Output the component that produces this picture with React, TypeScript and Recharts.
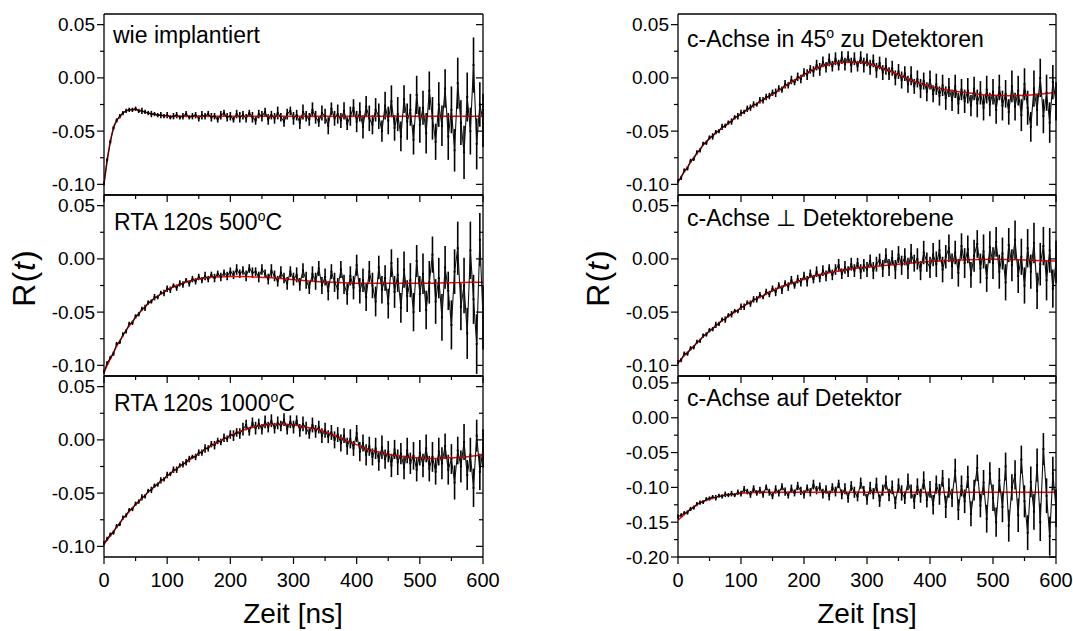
import React from 'react';
import { ComposedChart, Scatter, Line, XAxis, YAxis, ErrorBar } from 'recharts';

const FONT = '"Liberation Sans", Arial, Helvetica, sans-serif';

// measurement times (ns)
const times = [
  0, 5, 10, 15, 20, 25, 30, 35, 40, 45, 50, 55, 60, 65, 70, 75, 80, 85, 90, 95,
  100, 105, 110, 115, 120, 125, 130, 135, 140, 145, 150, 155, 160, 165, 170, 175, 180, 185, 190, 195,
  200, 205, 210, 215, 220, 225, 230, 235, 240, 245, 250, 255, 260, 265, 270, 275, 280, 285, 290, 295,
  300, 305, 310, 315, 320, 325, 330, 335, 340, 345, 350, 355, 360, 365, 370, 375, 380, 385, 390, 395,
  400, 405, 410, 415, 420, 425, 430, 435, 440, 445, 450, 455, 460, 465, 470, 475, 480, 485, 490, 495,
  500, 505, 510, 515, 520, 525, 530, 535, 540, 545, 550, 555, 560, 565, 570, 575, 580, 585, 590, 595,
  600,
];

// times of the fit curve samples
const fitTimes = [
  0, 5, 10, 15, 20, 25, 30, 35, 40, 50, 60, 70, 80, 90, 100,
  120, 140, 160, 180, 200, 220, 240, 260, 280, 300, 320, 340, 360, 380, 400,
  420, 440, 460, 480, 500, 520, 540, 560, 580, 600,
];

const xTicks = [0, 50, 100, 150, 200, 250, 300, 350, 400, 450, 500, 550, 600];
const yTicksStd = [-0.1, -0.075, -0.05, -0.025, 0, 0.025, 0.05];
const yTicksWide = [-0.2, -0.175, -0.15, -0.125, -0.1, -0.075, -0.05, -0.025, 0, 0.025, 0.05];

// wie implantiert
const wieY = [
  -0.099, -0.077, -0.060, -0.047, -0.040, -0.036, -0.033, -0.031, -0.030, -0.030,
  -0.029, -0.031, -0.031, -0.032, -0.033, -0.034, -0.034, -0.035, -0.035, -0.036,
  -0.035, -0.037, -0.036, -0.035, -0.037, -0.036, -0.034, -0.037, -0.036, -0.035,
  -0.038, -0.035, -0.036, -0.034, -0.037, -0.036, -0.039, -0.035, -0.033, -0.037,
  -0.036, -0.039, -0.034, -0.037, -0.035, -0.038, -0.033, -0.037, -0.040, -0.034,
  -0.036, -0.032, -0.039, -0.035, -0.038, -0.033, -0.037, -0.041, -0.034, -0.031,
  -0.038, -0.035, -0.042, -0.032, -0.036, -0.039, -0.030, -0.037, -0.041, -0.033,
  -0.036, -0.045, -0.029, -0.038, -0.034, -0.040, -0.031, -0.043, -0.036, -0.028,
  -0.041, -0.032, -0.046, -0.027, -0.038, -0.044, -0.030, -0.036, -0.050, -0.026,
  -0.040, -0.022, -0.047, -0.034, -0.055, -0.020, -0.041, -0.030, -0.058, -0.016,
  -0.044, -0.028, -0.052, -0.012, -0.038, -0.060, -0.025, -0.045, -0.010, -0.055,
  -0.030, -0.068, -0.005, -0.042, -0.070, -0.018, -0.050, 0.012, -0.062, -0.025,
  -0.040,
];
const wieErr = [
  0.002, 0.002, 0.002, 0.002, 0.002, 0.002, 0.002, 0.002, 0.002, 0.002,
  0.002, 0.002, 0.003, 0.002, 0.002, 0.003, 0.002, 0.002, 0.003, 0.002,
  0.003, 0.002, 0.003, 0.003, 0.002, 0.003, 0.003, 0.002, 0.003, 0.003,
  0.003, 0.004, 0.003, 0.003, 0.004, 0.003, 0.003, 0.004, 0.003, 0.004,
  0.004, 0.003, 0.004, 0.005, 0.004, 0.004, 0.003, 0.005, 0.004, 0.004,
  0.005, 0.004, 0.005, 0.004, 0.005, 0.006, 0.004, 0.005, 0.005, 0.004,
  0.006, 0.005, 0.006, 0.007, 0.005, 0.006, 0.007, 0.006, 0.005, 0.007,
  0.007, 0.008, 0.006, 0.007, 0.009, 0.007, 0.008, 0.006, 0.009, 0.008,
  0.010, 0.009, 0.011, 0.010, 0.012, 0.009, 0.011, 0.012, 0.010, 0.013,
  0.013, 0.015, 0.012, 0.016, 0.014, 0.013, 0.017, 0.015, 0.014, 0.018,
  0.017, 0.016, 0.019, 0.018, 0.020, 0.017, 0.021, 0.019, 0.018, 0.022,
  0.022, 0.020, 0.024, 0.021, 0.025, 0.023, 0.022, 0.026, 0.024, 0.021,
  0.025,
];
const wieFit = [
  -0.100, -0.078, -0.060, -0.047, -0.040, -0.037, -0.033, -0.031, -0.030, -0.0298,
  -0.0312, -0.033, -0.0345, -0.0352, -0.0357, -0.036, -0.036, -0.036, -0.036, -0.036,
  -0.036, -0.036, -0.036, -0.036, -0.036, -0.036, -0.036, -0.036, -0.036, -0.036,
  -0.036, -0.036, -0.036, -0.036, -0.036, -0.036, -0.036, -0.036, -0.036, -0.036,
];

// RTA 120s 500°C
const rta500Y = [
  -0.106, -0.098, -0.093, -0.089, -0.080, -0.078, -0.071, -0.068, -0.061, -0.060,
  -0.054, -0.052, -0.047, -0.046, -0.041, -0.040, -0.036, -0.036, -0.032, -0.032,
  -0.028, -0.029, -0.025, -0.027, -0.023, -0.024, -0.020, -0.023, -0.019, -0.021,
  -0.017, -0.020, -0.016, -0.019, -0.015, -0.018, -0.014, -0.017, -0.013, -0.016,
  -0.012, -0.015, -0.010, -0.014, -0.011, -0.016, -0.009, -0.013, -0.012, -0.017,
  -0.010, -0.014, -0.019, -0.011, -0.016, -0.021, -0.013, -0.018, -0.023, -0.012,
  -0.019, -0.015, -0.024, -0.011, -0.020, -0.027, -0.014, -0.021, -0.009, -0.025,
  -0.017, -0.030, -0.012, -0.022, -0.028, -0.010, -0.024, -0.033, -0.016, -0.027,
  -0.006, -0.030, -0.020, -0.036, -0.012, -0.025, -0.040, -0.008, -0.029, -0.018,
  -0.042, -0.004, -0.031, -0.015, -0.046, -0.010, -0.035, -0.020, -0.050, -0.002,
  -0.033, -0.014, -0.048, -0.022, 0.004, -0.040, -0.018, -0.055, -0.008, -0.030,
  -0.062, -0.012, 0.010, -0.045, -0.025, -0.070, 0.008, -0.038, -0.080, 0.018,
  -0.055,
];
const rta500Err = [
  0.002, 0.002, 0.002, 0.002, 0.002, 0.002, 0.002, 0.002, 0.002, 0.002,
  0.002, 0.002, 0.002, 0.003, 0.002, 0.002, 0.003, 0.002, 0.002, 0.003,
  0.003, 0.003, 0.002, 0.003, 0.003, 0.003, 0.002, 0.003, 0.003, 0.003,
  0.003, 0.003, 0.004, 0.003, 0.003, 0.004, 0.003, 0.004, 0.003, 0.004,
  0.004, 0.004, 0.005, 0.004, 0.004, 0.005, 0.004, 0.005, 0.004, 0.005,
  0.005, 0.004, 0.005, 0.006, 0.005, 0.005, 0.006, 0.005, 0.006, 0.005,
  0.006, 0.007, 0.006, 0.007, 0.008, 0.006, 0.007, 0.008, 0.007, 0.008,
  0.008, 0.009, 0.007, 0.009, 0.010, 0.008, 0.009, 0.010, 0.009, 0.011,
  0.010, 0.012, 0.011, 0.013, 0.010, 0.012, 0.014, 0.011, 0.013, 0.012,
  0.014, 0.013, 0.015, 0.016, 0.014, 0.017, 0.015, 0.016, 0.018, 0.015,
  0.017, 0.019, 0.018, 0.020, 0.017, 0.021, 0.019, 0.022, 0.020, 0.018,
  0.023, 0.021, 0.025, 0.022, 0.026, 0.024, 0.027, 0.023, 0.028, 0.025,
  0.030,
];
const rta500Fit = [
  -0.107, -0.100, -0.094, -0.088, -0.082, -0.077, -0.072, -0.067, -0.063, -0.055,
  -0.048, -0.042, -0.037, -0.033, -0.029, -0.024, -0.020, -0.018, -0.017, -0.0165,
  -0.0165, -0.017, -0.0175, -0.0185, -0.0195, -0.0205, -0.0215, -0.022, -0.0225, -0.023,
  -0.023, -0.023, -0.023, -0.023, -0.023, -0.0228, -0.0225, -0.0223, -0.022, -0.022,
];

// RTA 120s 1000°C
const rta1000Y = [
  -0.097, -0.093, -0.089, -0.087, -0.081, -0.079, -0.073, -0.071, -0.066, -0.065,
  -0.060, -0.058, -0.054, -0.053, -0.048, -0.047, -0.043, -0.042, -0.038, -0.037,
  -0.033, -0.032, -0.028, -0.028, -0.024, -0.023, -0.021, -0.018, -0.016, -0.016,
  -0.012, -0.012, -0.008, -0.008, -0.004, -0.005, -0.001, -0.002, 0.002, 0.001,
  0.005, 0.004, 0.007, 0.006, 0.010, 0.014, 0.008, 0.016, 0.011, 0.015,
  0.010, 0.017, 0.012, 0.018, 0.011, 0.016, 0.013, 0.019, 0.010, 0.017,
  0.012, 0.018, 0.009, 0.015, 0.011, 0.006, 0.014, 0.008, 0.012, 0.004,
  0.009, 0.003, 0.007, 0.000, 0.005, -0.003, 0.004, -0.006, 0.001, -0.008,
  0.006, -0.011, -0.003, -0.014, -0.006, -0.016, -0.008, -0.020, -0.007, -0.018,
  -0.011, -0.024, -0.009, -0.021, -0.013, -0.026, -0.010, -0.022, -0.015, -0.028,
  -0.012, -0.024, -0.008, -0.027, -0.016, -0.030, -0.011, -0.022, -0.006, -0.028,
  -0.018, -0.040, -0.010, -0.025, -0.002, -0.033, -0.014, -0.045, 0.004, -0.030,
  -0.008,
];
const rta1000Err = [
  0.002, 0.002, 0.002, 0.002, 0.002, 0.002, 0.002, 0.002, 0.002, 0.002,
  0.002, 0.002, 0.003, 0.002, 0.002, 0.003, 0.002, 0.002, 0.003, 0.002,
  0.003, 0.002, 0.003, 0.003, 0.002, 0.003, 0.003, 0.003, 0.002, 0.003,
  0.003, 0.003, 0.004, 0.003, 0.003, 0.004, 0.003, 0.003, 0.004, 0.003,
  0.004, 0.005, 0.004, 0.005, 0.006, 0.005, 0.004, 0.005, 0.006, 0.005,
  0.005, 0.006, 0.005, 0.006, 0.005, 0.006, 0.005, 0.006, 0.005, 0.006,
  0.006, 0.005, 0.006, 0.007, 0.006, 0.005, 0.007, 0.006, 0.006, 0.007,
  0.007, 0.006, 0.007, 0.008, 0.007, 0.008, 0.007, 0.008, 0.009, 0.007,
  0.008, 0.009, 0.008, 0.010, 0.009, 0.008, 0.010, 0.009, 0.011, 0.009,
  0.010, 0.011, 0.009, 0.012, 0.010, 0.011, 0.012, 0.010, 0.013, 0.011,
  0.012, 0.011, 0.013, 0.012, 0.014, 0.012, 0.013, 0.015, 0.012, 0.014,
  0.014, 0.016, 0.013, 0.015, 0.017, 0.014, 0.016, 0.018, 0.015, 0.017,
  0.018,
];
const rta1000Fit = [
  -0.098, -0.094, -0.090, -0.086, -0.082, -0.078, -0.074, -0.071, -0.067, -0.061,
  -0.055, -0.049, -0.044, -0.039, -0.034, -0.025, -0.017, -0.009, -0.002, 0.004,
  0.009, 0.0125, 0.0145, 0.015, 0.014, 0.012, 0.0095, 0.0055, 0.0005, -0.0045,
  -0.009, -0.012, -0.0145, -0.016, -0.017, -0.0175, -0.017, -0.0165, -0.0155, -0.014,
];

// c-Achse in 45° zu Detektoren
const c45Y = [
  -0.097, -0.094, -0.087, -0.085, -0.078, -0.076, -0.070, -0.068, -0.062, -0.061,
  -0.056, -0.055, -0.051, -0.050, -0.046, -0.045, -0.042, -0.041, -0.037, -0.036,
  -0.033, -0.032, -0.029, -0.028, -0.025, -0.025, -0.021, -0.021, -0.018, -0.017,
  -0.014, -0.014, -0.010, -0.011, -0.006, -0.007, -0.002, -0.004, 0.001, -0.001,
  0.005, 0.003, 0.008, 0.006, 0.012, 0.008, 0.015, 0.010, 0.017, 0.011,
  0.018, 0.012, 0.019, 0.013, 0.020, 0.012, 0.018, 0.011, 0.019, 0.012,
  0.017, 0.010, 0.016, 0.007, 0.014, 0.005, 0.011, 0.004, 0.009, 0.000,
  0.006, -0.002, 0.004, -0.006, 0.002, -0.008, -0.001, -0.010, -0.003, -0.013,
  -0.002, -0.015, -0.006, -0.017, -0.007, -0.019, -0.009, -0.021, -0.008, -0.024,
  -0.011, -0.022, -0.012, -0.026, -0.010, -0.024, -0.014, -0.028, -0.011, -0.025,
  -0.013, -0.030, -0.009, -0.026, -0.015, -0.032, -0.008, -0.027, -0.012, -0.035,
  -0.006, -0.028, -0.046, -0.010, -0.030, 0.000, -0.036, -0.014, -0.042, -0.004,
  -0.022,
];
const c45Err = [
  0.002, 0.002, 0.002, 0.002, 0.002, 0.002, 0.002, 0.002, 0.002, 0.002,
  0.002, 0.003, 0.002, 0.002, 0.003, 0.002, 0.002, 0.003, 0.002, 0.003,
  0.003, 0.002, 0.003, 0.003, 0.003, 0.002, 0.003, 0.003, 0.003, 0.003,
  0.003, 0.004, 0.003, 0.003, 0.004, 0.003, 0.004, 0.003, 0.004, 0.004,
  0.004, 0.005, 0.004, 0.005, 0.005, 0.006, 0.005, 0.005, 0.006, 0.005,
  0.006, 0.005, 0.006, 0.006, 0.005, 0.007, 0.006, 0.005, 0.006, 0.007,
  0.006, 0.007, 0.006, 0.007, 0.006, 0.007, 0.008, 0.006, 0.007, 0.007,
  0.007, 0.008, 0.007, 0.008, 0.009, 0.007, 0.008, 0.009, 0.008, 0.009,
  0.009, 0.008, 0.010, 0.009, 0.010, 0.011, 0.009, 0.010, 0.011, 0.010,
  0.010, 0.011, 0.012, 0.010, 0.011, 0.013, 0.011, 0.012, 0.013, 0.011,
  0.012, 0.013, 0.012, 0.014, 0.013, 0.012, 0.015, 0.013, 0.014, 0.015,
  0.015, 0.016, 0.014, 0.017, 0.015, 0.018, 0.016, 0.017, 0.019, 0.016,
  0.018,
];
const c45Fit = [
  -0.098, -0.093, -0.088, -0.084, -0.079, -0.075, -0.071, -0.067, -0.063, -0.057,
  -0.052, -0.047, -0.043, -0.038, -0.034, -0.026, -0.019, -0.012, -0.004, 0.003,
  0.009, 0.0125, 0.0145, 0.0148, 0.0135, 0.010, 0.0055, 0.0005, -0.004, -0.0075,
  -0.0105, -0.0125, -0.014, -0.0155, -0.0163, -0.0168, -0.0166, -0.016, -0.015, -0.0135,
];

// c-Achse ⊥ Detektorebene
const perpY = [
  -0.097, -0.095, -0.089, -0.089, -0.084, -0.083, -0.078, -0.077, -0.072, -0.071,
  -0.067, -0.066, -0.062, -0.061, -0.057, -0.057, -0.053, -0.052, -0.049, -0.049,
  -0.045, -0.045, -0.041, -0.042, -0.038, -0.038, -0.034, -0.036, -0.031, -0.033,
  -0.028, -0.031, -0.025, -0.029, -0.023, -0.026, -0.020, -0.025, -0.019, -0.022,
  -0.016, -0.021, -0.014, -0.019, -0.012, -0.018, -0.011, -0.016, -0.009, -0.015,
  -0.010, -0.006, -0.014, -0.008, -0.012, -0.005, -0.011, -0.004, -0.012, -0.006,
  -0.010, -0.002, -0.011, -0.005, -0.001, -0.009, 0.003, -0.008, 0.001, -0.010,
  0.004, -0.006, 0.002, -0.009, 0.005, -0.004, 0.000, -0.011, 0.006, -0.003,
  -0.008, 0.004, -0.005, 0.008, -0.010, 0.002, 0.010, -0.007, 0.006, -0.013,
  0.012, -0.004, 0.009, -0.015, 0.003, 0.014, -0.009, 0.007, -0.018, 0.011,
  -0.004, 0.016, -0.012, 0.005, -0.022, 0.013, -0.006, 0.018, -0.016, 0.002,
  -0.025, 0.010, -0.012, 0.015, -0.030, -0.005, 0.012, -0.020, 0.008, -0.028,
  -0.003,
];
const perpErr = [
  0.002, 0.002, 0.002, 0.002, 0.002, 0.002, 0.002, 0.002, 0.002, 0.002,
  0.002, 0.002, 0.003, 0.002, 0.002, 0.003, 0.002, 0.003, 0.002, 0.002,
  0.003, 0.003, 0.002, 0.003, 0.003, 0.003, 0.003, 0.002, 0.003, 0.003,
  0.003, 0.004, 0.003, 0.004, 0.003, 0.004, 0.004, 0.003, 0.004, 0.004,
  0.004, 0.005, 0.004, 0.004, 0.005, 0.004, 0.005, 0.005, 0.004, 0.005,
  0.005, 0.006, 0.005, 0.006, 0.005, 0.006, 0.006, 0.005, 0.007, 0.006,
  0.007, 0.006, 0.008, 0.007, 0.006, 0.008, 0.007, 0.008, 0.007, 0.009,
  0.008, 0.009, 0.008, 0.010, 0.009, 0.008, 0.010, 0.009, 0.011, 0.009,
  0.010, 0.011, 0.012, 0.010, 0.012, 0.011, 0.013, 0.012, 0.011, 0.013,
  0.012, 0.014, 0.013, 0.012, 0.015, 0.013, 0.014, 0.016, 0.013, 0.015,
  0.015, 0.014, 0.016, 0.015, 0.017, 0.016, 0.015, 0.018, 0.016, 0.017,
  0.017, 0.018, 0.016, 0.019, 0.017, 0.020, 0.018, 0.019, 0.021, 0.018,
  0.020,
];
const perpFit = [
  -0.098, -0.094, -0.091, -0.088, -0.085, -0.082, -0.079, -0.076, -0.073, -0.068,
  -0.063, -0.058, -0.054, -0.050, -0.046, -0.039, -0.033, -0.027, -0.023, -0.019,
  -0.0155, -0.013, -0.011, -0.009, -0.0078, -0.0066, -0.0055, -0.0045, -0.0035, -0.0025,
  -0.0018, -0.0012, -0.0008, -0.0005, -0.0004, -0.0005, -0.0008, -0.0012, -0.0017, -0.002,
];

// c-Achse auf Detektor
const detY = [
  -0.142, -0.140, -0.137, -0.136, -0.131, -0.129, -0.124, -0.122, -0.121, -0.117,
  -0.116, -0.114, -0.115, -0.112, -0.113, -0.110, -0.111, -0.109, -0.111, -0.107,
  -0.109, -0.103, -0.106, -0.110, -0.102, -0.108, -0.104, -0.110, -0.100, -0.107,
  -0.112, -0.103, -0.108, -0.099, -0.106, -0.111, -0.102, -0.108, -0.098, -0.105,
  -0.110, -0.101, -0.107, -0.096, -0.104, -0.099, -0.109, -0.103, -0.112, -0.100,
  -0.106, -0.095, -0.110, -0.102, -0.115, -0.098, -0.107, -0.113, -0.094, -0.105,
  -0.117, -0.101, -0.109, -0.096, -0.119, -0.104, -0.093, -0.111, -0.100, -0.122,
  -0.097, -0.108, -0.115, -0.092, -0.106, -0.120, -0.099, -0.112, -0.090, -0.118,
  -0.103, -0.125, -0.096, -0.110, -0.087, -0.128, -0.101, -0.115, -0.076, -0.132,
  -0.098, -0.120, -0.085, -0.138, -0.104, -0.072, -0.126, -0.093, -0.145, -0.080,
  -0.115, -0.150, -0.090, -0.128, -0.070, -0.155, -0.100, -0.082, -0.140, -0.060,
  -0.120, -0.165, -0.092, -0.135, -0.068, -0.150, -0.045, -0.112, -0.170, -0.080,
  -0.130,
];
const detErr = [
  0.003, 0.003, 0.003, 0.003, 0.003, 0.003, 0.003, 0.003, 0.003, 0.003,
  0.003, 0.003, 0.004, 0.003, 0.003, 0.004, 0.003, 0.004, 0.003, 0.004,
  0.004, 0.005, 0.004, 0.005, 0.005, 0.004, 0.005, 0.005, 0.004, 0.005,
  0.005, 0.006, 0.005, 0.005, 0.006, 0.005, 0.006, 0.005, 0.006, 0.006,
  0.006, 0.005, 0.006, 0.007, 0.006, 0.006, 0.007, 0.006, 0.007, 0.006,
  0.007, 0.006, 0.007, 0.008, 0.007, 0.007, 0.008, 0.007, 0.008, 0.007,
  0.008, 0.009, 0.008, 0.010, 0.009, 0.008, 0.010, 0.009, 0.010, 0.009,
  0.010, 0.011, 0.009, 0.012, 0.010, 0.011, 0.012, 0.010, 0.013, 0.011,
  0.012, 0.014, 0.013, 0.015, 0.012, 0.016, 0.014, 0.013, 0.017, 0.015,
  0.015, 0.017, 0.016, 0.018, 0.015, 0.019, 0.017, 0.018, 0.020, 0.016,
  0.019, 0.021, 0.018, 0.022, 0.020, 0.023, 0.019, 0.021, 0.024, 0.020,
  0.023, 0.025, 0.022, 0.026, 0.024, 0.027, 0.023, 0.025, 0.028, 0.024,
  0.027,
];
const detFit = [
  -0.147, -0.143, -0.139, -0.135, -0.131, -0.128, -0.125, -0.122, -0.120, -0.117,
  -0.114, -0.112, -0.1105, -0.1095, -0.1085, -0.1075, -0.107, -0.107, -0.107, -0.107,
  -0.107, -0.107, -0.107, -0.107, -0.107, -0.107, -0.107, -0.107, -0.107, -0.107,
  -0.107, -0.107, -0.107, -0.107, -0.107, -0.107, -0.107, -0.107, -0.107, -0.107,
];

const PLOT_H = 181;
const AXIS = { stroke: '#000', strokeWidth: 1.3 };

const isMajor = (v: number, step: number) => Math.abs(v / step - Math.round(v / step)) < 1e-6;

const LeftTick = (p: any) => {
  const v = p.payload.value;
  const major = isMajor(v, 0.05);
  return (
    <g>
      <line x1={p.x} x2={p.x - (major ? 7 : 4)} y1={p.y} y2={p.y} stroke="#000" strokeWidth={1.2} />
      {major && (
        <text x={p.x - 9} y={p.y + 6.5} textAnchor="end" fontSize={19} fontFamily={FONT} fill="#000">
          {v.toFixed(2)}
        </text>
      )}
    </g>
  );
};

const RightTick = (p: any) => {
  const major = isMajor(p.payload.value, 0.05);
  return <line x1={p.x} x2={p.x - (major ? 7 : 4)} y1={p.y} y2={p.y} stroke="#000" strokeWidth={1.2} />;
};

const TopTick = (p: any) => {
  const major = isMajor(p.payload.value, 100);
  return <line x1={p.x} x2={p.x} y1={p.y} y2={p.y + (major ? 7 : 4)} stroke="#000" strokeWidth={1.2} />;
};

const makeBottomTick = (showLabels: boolean) => (p: any) => {
  const v = p.payload.value;
  const major = isMajor(v, 100);
  return (
    <g>
      <line x1={p.x} x2={p.x} y1={p.y} y2={p.y + (major ? 7 : 4)} stroke="#000" strokeWidth={1.2} />
      {showLabels && major && (
        <text x={p.x} y={p.y + 30} textAnchor="middle" fontSize={20} fontFamily={FONT} fill="#000">
          {v}
        </text>
      )}
    </g>
  );
};

interface PanelProps {
  left: number;
  top: number;
  width: number;
  bottom: boolean;
  ys: number[];
  errs: number[];
  fit: number[];
  domain: [number, number];
  yTicks: number[];
}

function Panel({ left, top, width, bottom, ys, errs, fit, domain, yTicks }: PanelProps) {
  const rows = times.map((t, i) => ({ t, y: ys[i], e: errs[i] }));
  const fitRows = fitTimes.map((t, i) => ({ t, y: fit[i] }));
  const bottomH = bottom ? 40 : 10;
  return (
    <div style={{ position: 'absolute', left, top: top - 10 }}>
      <ComposedChart width={width} height={10 + PLOT_H + bottomH} margin={{ top: 0, right: 0, bottom: 0, left: 0 }}>
        <XAxis
          xAxisId="b"
          dataKey="t"
          type="number"
          domain={[0, 600]}
          ticks={xTicks}
          interval={0}
          allowDataOverflow
          height={bottomH}
          tickSize={0}
          tickMargin={0}
          tickLine={false}
          axisLine={AXIS}
          tick={makeBottomTick(bottom)}
        />
        <XAxis
          xAxisId="top"
          orientation="top"
          type="number"
          domain={[0, 600]}
          ticks={xTicks}
          interval={0}
          allowDataOverflow
          height={10}
          tickSize={0}
          tickMargin={0}
          tickLine={false}
          axisLine={AXIS}
          tick={TopTick}
        />
        <YAxis
          yAxisId="l"
          dataKey="y"
          type="number"
          domain={domain}
          ticks={yTicks}
          interval={0}
          allowDataOverflow
          width={104}
          tickSize={0}
          tickMargin={0}
          tickLine={false}
          axisLine={AXIS}
          tick={LeftTick}
        />
        <YAxis
          yAxisId="r"
          orientation="right"
          type="number"
          domain={domain}
          ticks={yTicks}
          interval={0}
          allowDataOverflow
          width={17}
          tickSize={0}
          tickMargin={0}
          tickLine={false}
          axisLine={AXIS}
          tick={RightTick}
        />
        <Scatter
          xAxisId="b"
          yAxisId="l"
          data={rows}
          dataKey="y"
          isAnimationActive={false}
          line={{ stroke: '#111', strokeWidth: 1.1 }}
          shape={(s: any) => <rect x={s.cx - 1} y={s.cy - 1} width={2} height={2} fill="#000" />}
        >
          <ErrorBar dataKey="e" direction="y" width={0} stroke="#000" strokeWidth={1.6} isAnimationActive={false} />
        </Scatter>
        <Line
          xAxisId="b"
          yAxisId="l"
          data={fitRows}
          dataKey="y"
          type="monotone"
          dot={false}
          stroke="#ff0000"
          strokeWidth={1.5}
          isAnimationActive={false}
        />
      </ComposedChart>
    </div>
  );
}

const Deg = () => (
  <tspan dy={-9} fontSize={14}>
    o
  </tspan>
);

export default function App() {
  const tops = [14, 195, 376];
  return (
    <div style={{ position: 'absolute', left: 0, top: 0, width: 1073, height: 631, background: '#fff', overflow: 'hidden' }}>
      <Panel left={0} top={tops[0]} width={500} bottom={false} ys={wieY} errs={wieErr} fit={wieFit} domain={[-0.11, 0.06]} yTicks={yTicksStd} />
      <Panel left={0} top={tops[1]} width={500} bottom={false} ys={rta500Y} errs={rta500Err} fit={rta500Fit} domain={[-0.11, 0.06]} yTicks={yTicksStd} />
      <Panel left={0} top={tops[2]} width={500} bottom ys={rta1000Y} errs={rta1000Err} fit={rta1000Fit} domain={[-0.11, 0.06]} yTicks={yTicksStd} />
      <Panel left={574} top={tops[0]} width={499} bottom={false} ys={c45Y} errs={c45Err} fit={c45Fit} domain={[-0.11, 0.06]} yTicks={yTicksStd} />
      <Panel left={574} top={tops[1]} width={499} bottom={false} ys={perpY} errs={perpErr} fit={perpFit} domain={[-0.11, 0.06]} yTicks={yTicksStd} />
      <Panel left={574} top={tops[2]} width={499} bottom ys={detY} errs={detErr} fit={detFit} domain={[-0.2, 0.06]} yTicks={yTicksWide} />

      <svg width={1073} height={631} style={{ position: 'absolute', left: 0, top: 0, pointerEvents: 'none' }} fontFamily={FONT} fill="#000">
        <text x={113} y={43} fontSize={23}>wie implantiert</text>
        <text x={114} y={230} fontSize={23}>
          RTA 120s 500<Deg />
          <tspan dy={9}>C</tspan>
        </text>
        <text x={114} y={411} fontSize={23}>
          RTA 120s 1000<Deg />
          <tspan dy={9}>C</tspan>
        </text>
        <text x={687} y={47} fontSize={23}>
          c-Achse in 45<Deg />
          <tspan dy={9}> zu Detektoren</tspan>
        </text>
        <text x={687} y={226} fontSize={23}>c-Achse ⊥ Detektorebene</text>
        <text x={687} y={406} fontSize={23}>c-Achse auf Detektor</text>

        <text transform="translate(35,278) rotate(-90)" textAnchor="middle" fontSize={32} letterSpacing={1}>
          R(<tspan fontStyle="italic">t</tspan>)
        </text>
        <text transform="translate(609,278) rotate(-90)" textAnchor="middle" fontSize={32} letterSpacing={1}>
          R(<tspan fontStyle="italic">t</tspan>)
        </text>

        <text x={293} y={623} textAnchor="middle" fontSize={28}>Zeit [ns]</text>
        <text x={867} y={623} textAnchor="middle" fontSize={28}>Zeit [ns]</text>
      </svg>
    </div>
  );
}
